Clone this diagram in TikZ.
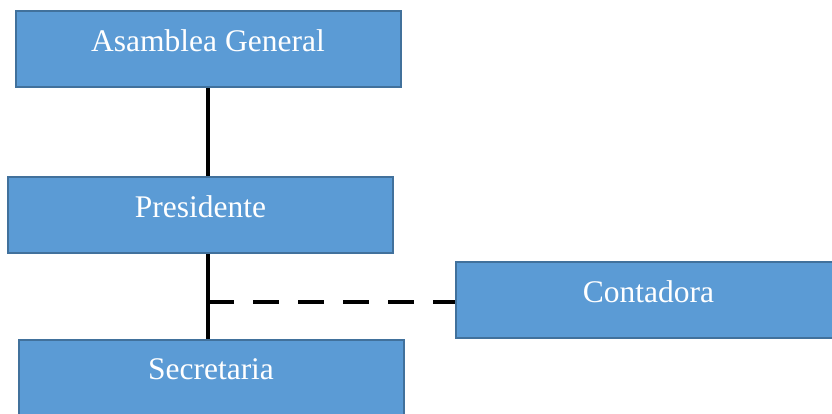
\documentclass[tikz,border=0pt]{standalone}
\usepackage{fontspec}
\setmainfont{Liberation Serif}
\usepackage{tikz}
\usetikzlibrary{positioning, calc}
\definecolor{BF}{RGB}{91,155,213}
\definecolor{BD}{RGB}{65,113,156}

\begin{document}
\begin{tikzpicture}[
  x=1pt, y=-1pt,
  unit/.style={draw=BD, line width=2pt, fill=BF, minimum width=385pt,
               inner ysep=0pt, text height=40pt, text depth=36pt,
               text=white, font=\fontsize{31.5}{36}\selectfont},
  link/.style={draw=black, line width=3.5pt},
  staff/.style={link, dash pattern=on 26pt off 19pt}
]
\clip (0,0) rectangle (832,414);
% Units
\node[unit] (asamblea)   at (208,49.5)  {Asamblea General};
\node[unit] (presidente) at (200.5,215) {Presidente};
\node[unit] (contadora)  at (648.5,300) {Contadora};
\node[unit] (secretaria) at (211,377.5) {Secretaria};

% Lines
\draw[link] (asamblea.south) -- (asamblea.south |- presidente.north);
\draw[link] (asamblea.south |- presidente.south) -- (asamblea.south |- secretaria.north);
\coordinate (tap) at (asamblea.south |- 0,302);
\draw[staff] (tap) -- (tap -| contadora.west);
\end{tikzpicture}
\end{document}
